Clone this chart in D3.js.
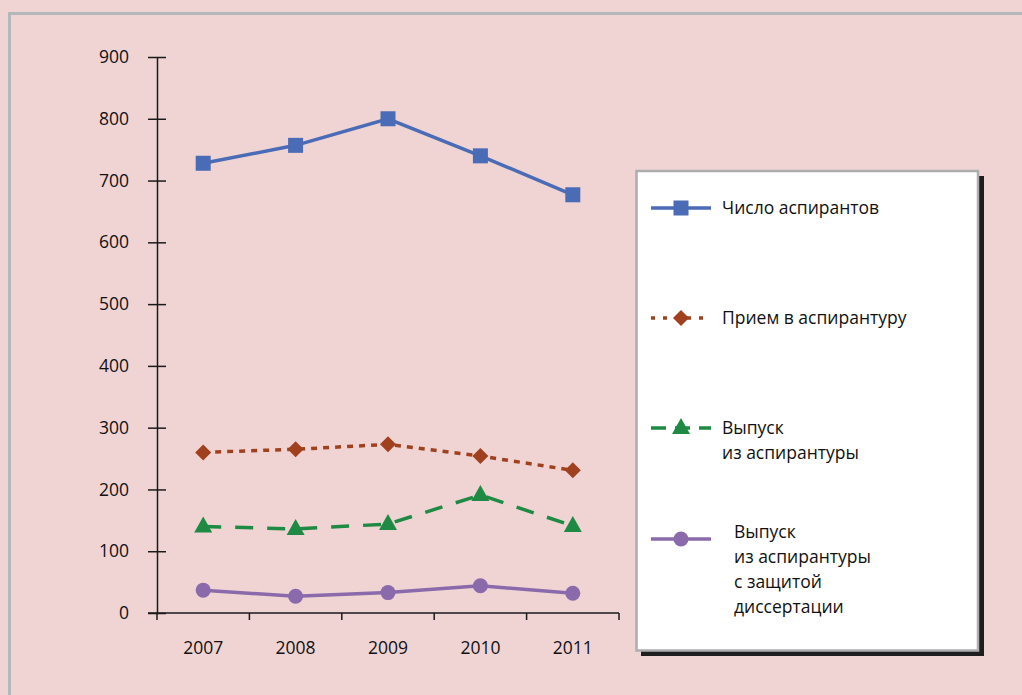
<!DOCTYPE html>
<html><head><meta charset="utf-8">
<script src="https://cdn.jsdelivr.net/npm/d3@7"></script>
<style>html,body{margin:0;padding:0;background:#f0d4d4;}svg{display:block;}</style>
</head><body>
<svg id="c" width="1022" height="695"></svg>
<script>
const years = ["2007","2008","2009","2010","2011"];
const numGrad = [728, 757, 800, 740, 677];
const admission = [260, 265, 273, 254, 231];
const graduates = [140, 136, 144, 191, 141];
const graduatesDefended = [37, 27, 33, 44, 32];
const yTicks = [0,100,200,300,400,500,600,700,800,900];

const series = [
  {name:["Число аспирантов"], values:numGrad, color:"#4a6bb5", dash:null, ldash:null, width:3.5, marker:"square", ly:208, tx:722},
  {name:["Прием в аспирантуру"], values:admission, color:"#a0401e", dash:"6,6", ldash:"4,8", width:3.5, marker:"diamond", ly:318, tx:722},
  {name:["Выпуск","из аспирантуры"], values:graduates, color:"#1f8a43", dash:"18,14", ldash:"15,9", width:3.5, marker:"triangle", ly:428, tx:722},
  {name:["Выпуск","из аспирантуры","с защитой","диссертации"], values:graduatesDefended, color:"#8a6aab", dash:null, ldash:null, width:3.5, marker:"circle", ly:539, tx:734, ty:532}
];

const svg = d3.select("#c");
const font = "'Open Sans', 'Noto Sans', sans-serif";

// outer frame
svg.append("path").attr("d","M9.5,700 V13.5 H1030").attr("fill","none").attr("stroke","#b4b8ba").attr("stroke-width",3);

const x = d3.scaleBand().domain(years).range([157,619]);
const y = d3.scaleLinear().domain([0,900]).range([613,57]);

// y axis
const ya = svg.append("g").attr("transform","translate(157,0)")
  .call(d3.axisLeft(y).tickValues(yTicks).tickSize(9).tickSizeOuter(0));
ya.selectAll(".tick line").each(function(){ d3.select(this).attr("x1",9).attr("x2",-9); });
ya.select(".domain").attr("stroke","#1a1a1a").attr("stroke-width",1.5);
ya.selectAll(".tick line").attr("stroke","#1a1a1a").attr("stroke-width",1.5);
ya.selectAll("text").attr("font-family",font).attr("font-size",17.5).attr("fill","#111").attr("x",-28);

// x axis
const xa = svg.append("g").attr("transform","translate(0,613)")
  .call(d3.axisBottom(x).tickSize(0).tickPadding(29));
xa.select(".domain").attr("stroke","#1a1a1a").attr("stroke-width",1.5).attr("d","M148,0H619");
xa.selectAll("text").attr("font-family",font).attr("font-size",17.5).attr("fill","#111");
const bounds = [157, ...years.map(d=>x(d)+x.bandwidth())];
xa.selectAll(".sep").data(bounds).join("line").attr("class","sep")
  .attr("x1",d=>d).attr("x2",d=>d).attr("y1",0).attr("y2",7).attr("stroke","#1a1a1a").attr("stroke-width",1.5);

const cx = d => x(d)+x.bandwidth()/2;

function marker(g, type, color, px, py){
  if(type==="square") g.append("rect").attr("x",px-7.5).attr("y",py-7.5).attr("width",15).attr("height",15).attr("fill",color);
  if(type==="diamond") g.append("path").attr("d",`M${px},${py-8}L${px+8},${py}L${px},${py+8}L${px-8},${py}Z`).attr("fill",color);
  if(type==="triangle") g.append("path").attr("d",`M${px},${py-10}L${px+9},${py+6}L${px-9},${py+6}Z`).attr("fill",color);
  if(type==="circle") g.append("circle").attr("cx",px).attr("cy",py).attr("r",7.5).attr("fill",color);
}

const line = d3.line().x((d,i)=>cx(years[i])).y(d=>y(d));
series.forEach(s=>{
  const g = svg.append("g");
  g.append("path").attr("d",line(s.values)).attr("fill","none").attr("stroke",s.color)
    .attr("stroke-width",s.width).attr("stroke-dasharray",s.dash);
  s.values.forEach((v,i)=>marker(g,s.marker,s.color,cx(years[i]),y(v)));
});

// legend
const lg = svg.append("g");
lg.append("rect").attr("x",641).attr("y",176).attr("width",343).attr("height",480).attr("fill","#1e1e1e");
lg.append("rect").attr("x",636.5).attr("y",171).attr("width",341.5).attr("height",479.5).attr("fill","#fff").attr("stroke","#adadb0").attr("stroke-width",2.5);
series.forEach(s=>{
  lg.append("line").attr("x1",651).attr("x2",711).attr("y1",s.ly).attr("y2",s.ly)
    .attr("stroke",s.color).attr("stroke-width",s.width).attr("stroke-dasharray",s.ldash);
  marker(lg,s.marker,s.color,681,s.ly);
  const ty0 = s.ty || s.ly;
  const t = lg.append("text").attr("font-family",font).attr("font-size",17.5).attr("fill","#111");
  s.name.forEach((n,i)=>t.append("tspan").attr("x",s.tx).attr("y",ty0+6+i*25).text(n));
});
</script>
</body></html>
